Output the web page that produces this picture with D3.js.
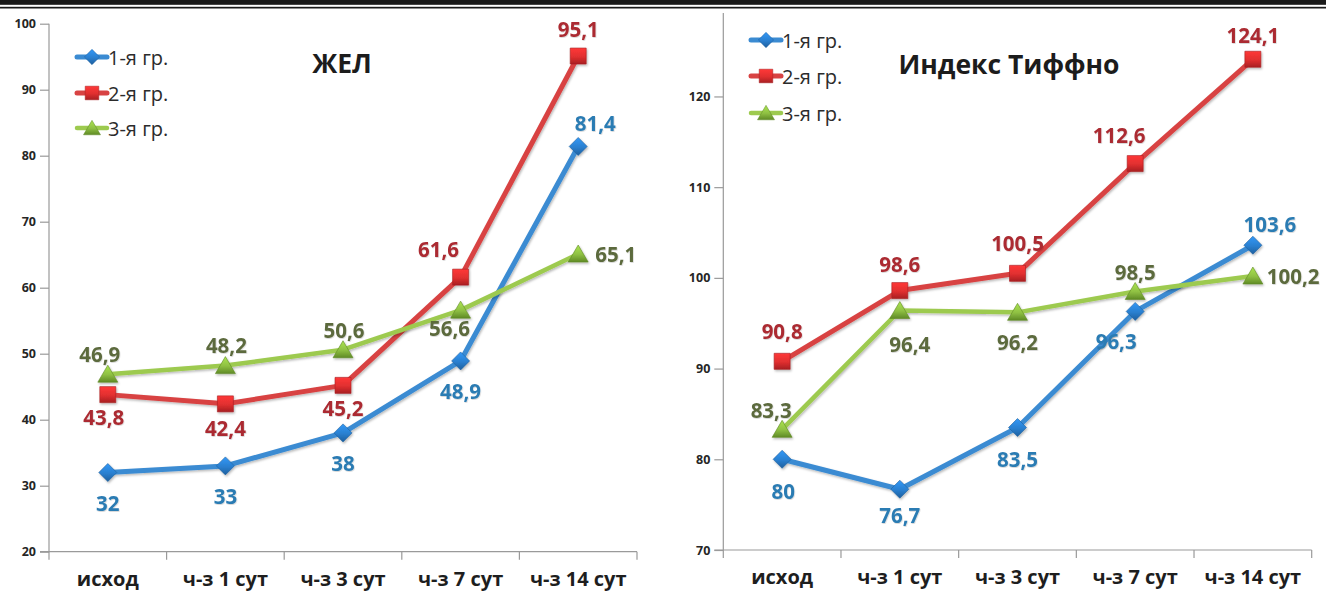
<!DOCTYPE html>
<html>
<head>
<meta charset="utf-8">
<script src="https://cdn.jsdelivr.net/npm/d3@7"></script>
<style>
  html, body { margin: 0; padding: 0; background: #fff; }
  svg { display: block; font-family: "Open Sans", "DejaVu Sans", sans-serif; }
</style>
</head>
<body>
<svg id="chart" width="1326" height="592"></svg>
<script>
// ---- data ----
const categories = ["исход", "ч-з 1 сут", "ч-з 3 сут", "ч-з 7 сут", "ч-з 14 сут"];
const seriesNames = ["1-я гр.", "2-я гр.", "3-я гр."];

// ЖЕЛ
const zhelTitle = "ЖЕЛ";
const zhelG1 = [32, 33, 38, 48.9, 81.4];
const zhelG2 = [43.8, 42.4, 45.2, 61.6, 95.1];
const zhelG3 = [46.9, 48.2, 50.6, 56.6, 65.1];
const zhelTicks = [20, 30, 40, 50, 60, 70, 80, 90, 100];

// Индекс Тиффно
const tiffTitle = "Индекс Тиффно";
const tiffG1 = [80, 76.7, 83.5, 96.3, 103.6];
const tiffG2 = [90.8, 98.6, 100.5, 112.6, 124.1];
const tiffG3 = [83.3, 96.4, 96.2, 98.5, 100.2];
const tiffTicks = [70, 80, 90, 100, 110, 120];

// ---- styling ----
const lineColors = ["#3b8bd2", "#d84343", "#9dca4f"];
const markerColors = ["#2a7fcf", "#e02f2f", "#8fc043"];
const markerDark = ["#1d5f9e", "#a81f22", "#5f8a25"];
const labelColors = ["#2b7bb3", "#ab2a30", "#5c6a3d"];
const lineWidths = [5, 5, 4.5];
const shapes = ["diamond", "square", "triangle"];

// label offsets [dx, dy, anchor] relative to each marker
const zhelLabelPos = [
  [[0, 30], [0, 30], [0, 30], [0, 30], [17, -23]],
  [[-4, 22], [0, 24], [0, 23], [-22, -28], [0, -27]],
  [[-8, -20], [1, -21], [1, -20], [-11, 18], [17, 0, "start"]]
];
const tiffLabelPos = [
  [[1, 32], [0, 26], [0, 31], [-19, 30], [17, -21]],
  [[0, -30], [0, -27], [0, -30], [-16, -29], [0, -24]],
  [[-11, -19], [10, 33], [0, 30], [0, -19], [14, 0, "start"]]
];

const svg = d3.select("#chart");

// top rule
svg.append("rect").attr("x", 0).attr("y", 0).attr("width", 1326).attr("height", 4.8).attr("fill", "#1a1a1a");
svg.append("rect").attr("x", 0).attr("y", 6.8).attr("width", 1326).attr("height", 1.7).attr("fill", "#1a1a1a");

// soft shadow and marker gradients
const defs = svg.append("defs");
const shadow = defs.append("filter").attr("id", "shadow")
  .attr("x", "-20%").attr("y", "-20%").attr("width", "140%").attr("height", "140%");
shadow.append("feDropShadow").attr("dx", 1).attr("dy", 1.5).attr("stdDeviation", 1.3)
  .attr("flood-color", "#000").attr("flood-opacity", 0.28);
const textShadow = defs.append("filter").attr("id", "tshadow")
  .attr("x", "-20%").attr("y", "-20%").attr("width", "140%").attr("height", "140%");
textShadow.append("feDropShadow").attr("dx", 0.6).attr("dy", 0.8).attr("stdDeviation", 0.7)
  .attr("flood-color", "#000").attr("flood-opacity", 0.18);

markerColors.forEach((c, i) => {
  const g = defs.append("linearGradient").attr("id", "mg" + i)
    .attr("x1", 0).attr("y1", 0).attr("x2", 0).attr("y2", 1);
  g.append("stop").attr("offset", "0%").attr("stop-color", d3.color(c).brighter(0.5));
  g.append("stop").attr("offset", "55%").attr("stop-color", c);
  g.append("stop").attr("offset", "100%").attr("stop-color", markerDark[i]);
});

function markerPath(shape) {
  if (shape === "diamond") return "M0,-9L9,0L0,9L-9,0Z";
  if (shape === "square") return "M-8,-8H8V8H-8Z";
  return "M0,-9L10,8H-10Z";
}

function fmt(v) { return String(v).replace(".", ","); }

function drawPanel(cfg) {
  const x = d3.scaleBand().domain(categories).range([cfg.x0, cfg.x1]).paddingInner(0).paddingOuter(0);
  const y = d3.scaleLinear().domain(cfg.domain).range([cfg.yBottom, cfg.yTop]);
  const g = svg.append("g");

  // y axis
  const yAxis = d3.axisLeft(y).tickValues(cfg.ticks).tickSize(9).tickPadding(4).tickFormat(d3.format("d"));
  const ya = g.append("g").attr("transform", `translate(${cfg.x0},0)`).call(yAxis);
  ya.select(".domain").attr("stroke", "#9a9a9a").attr("stroke-width", 1.2).attr("d", `M-9,${y(cfg.ticks[0])}H0V${cfg.yTop}`);
  ya.selectAll(".tick line").attr("stroke", "#9a9a9a").attr("stroke-width", 1.2);
  ya.selectAll(".tick text").attr("fill", "#262626").attr("font-size", 12.5).attr("font-weight", 700)
    .attr("font-family", "'Open Sans', sans-serif");

  // x axis
  const xAxis = d3.axisBottom(x).tickSize(0).tickPadding(0);
  const xa = g.append("g").attr("transform", `translate(0,${y(cfg.domain[0])})`).call(xAxis);
  xa.select(".domain").attr("stroke", "#9a9a9a").attr("stroke-width", 1.2).attr("d", `M${cfg.x0},0H${cfg.x1}`);
  xa.selectAll(".tick text").attr("fill", "#1e1e1e").attr("font-size", 20).attr("font-weight", 700)
    .attr("font-family", "'Open Sans', sans-serif").attr("dy", 0).attr("y", 28.5)
    .attr("dominant-baseline", "middle");
  // category boundary ticks
  const bounds = categories.map(c => x(c)).concat([cfg.x1]);
  xa.selectAll("line.bound").data(bounds).join("line").attr("class", "bound")
    .attr("x1", d => d).attr("x2", d => d).attr("y1", 0).attr("y2", 8)
    .attr("stroke", "#9a9a9a").attr("stroke-width", 1.2);

  const cx = c => x(c) + x.bandwidth() / 2;

  // series
  cfg.series.forEach((vals, si) => {
    const pts = vals.map((v, i) => ({ c: categories[i], v }));
    const line = d3.line().x(d => cx(d.c)).y(d => y(d.v));
    const sg = g.append("g").attr("filter", "url(#shadow)");
    sg.append("path").datum(pts).attr("d", line).attr("fill", "none")
      .attr("stroke", lineColors[si]).attr("stroke-width", lineWidths[si])
      .attr("stroke-linejoin", "round").attr("stroke-linecap", "round");
    sg.selectAll("path.mk").data(pts).join("path").attr("class", "mk")
      .attr("d", markerPath(shapes[si]))
      .attr("transform", d => `translate(${cx(d.c)},${y(d.v)})`)
      .attr("fill", `url(#mg${si})`).attr("stroke", markerDark[si]).attr("stroke-width", 0.6);
  });

  // data labels
  cfg.series.forEach((vals, si) => {
    vals.forEach((v, i) => {
      const p = cfg.labelPos[si][i];
      g.append("text")
        .attr("x", cx(categories[i]) + p[0])
        .attr("y", y(v) + p[1])
        .attr("text-anchor", p[2] || "middle")
        .attr("dominant-baseline", "central")
        .attr("fill", labelColors[si])
        .attr("font-size", 20.5).attr("font-weight", 700)
        .attr("filter", "url(#tshadow)")
        .text(fmt(v));
    });
  });

  // legend
  seriesNames.forEach((name, si) => {
    const ly = cfg.legendY[si];
    const lg = g.append("g");
    lg.append("line").attr("x1", cfg.legendX).attr("x2", cfg.legendX + 30).attr("y1", ly).attr("y2", ly)
      .attr("stroke", lineColors[si]).attr("stroke-width", lineWidths[si]).attr("stroke-linecap", "round");
    lg.append("path").attr("d", markerPath(shapes[si]))
      .attr("transform", `translate(${cfg.legendX + 15},${ly}) scale(0.85)`)
      .attr("fill", `url(#mg${si})`).attr("stroke", markerDark[si]).attr("stroke-width", 0.6);
    lg.append("text").attr("x", cfg.legendX + 31).attr("y", ly).attr("dominant-baseline", "central")
      .attr("fill", "#2b2b2b").attr("font-size", 20).text(name);
  });

  // title
  g.append("text").attr("x", cfg.titleX).attr("y", cfg.titleY).attr("text-anchor", "middle")
    .attr("dominant-baseline", "central").attr("fill", "#1c1c1c")
    .attr("font-size", 26.5).attr("font-weight", 700).text(cfg.title);
}

drawPanel({
  x0: 49, x1: 637, yBottom: 551.7, yTop: 23.7, domain: [20, 100], ticks: zhelTicks,
  series: [zhelG1, zhelG2, zhelG3], labelPos: zhelLabelPos,
  legendX: 77, legendY: [57, 93, 128],
  title: zhelTitle, titleX: 342, titleY: 63
});

drawPanel({
  x0: 723.3, x1: 1311.7, yBottom: 550, yTop: 13, domain: [70, 129.2], ticks: tiffTicks,
  series: [tiffG1, tiffG2, tiffG3], labelPos: tiffLabelPos,
  legendX: 751, legendY: [40, 76, 113],
  title: tiffTitle, titleX: 1009, titleY: 64
});
</script>
</body>
</html>
